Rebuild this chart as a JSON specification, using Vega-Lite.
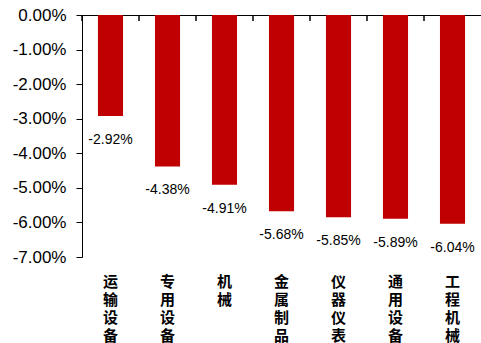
{
  "$schema": "https://vega.github.io/schema/vega-lite/v6.json",
  "width": 481,
  "height": 343,
  "autosize": {"type": "fit", "contains": "padding"},
  "padding": {"top": 6, "left": 12, "right": 0, "bottom": 0},
  "background": "white",
  "config": {"view": {"stroke": null}},
  "data": {
    "values": [
      {"cat": "运输设备", "v": -0.0292},
      {"cat": "专用设备", "v": -0.0438},
      {"cat": "机械", "v": -0.0491},
      {"cat": "金属制品", "v": -0.0568},
      {"cat": "仪器仪表", "v": -0.0585},
      {"cat": "通用设备", "v": -0.0589},
      {"cat": "工程机械", "v": -0.0604}
    ]
  },
  "resolve": {"scale": {"x": "independent"}, "axis": {"x": "independent"}},
  "encoding": {
    "y": {
      "field": "v", "type": "quantitative",
      "scale": {"domain": [-0.07, 0], "nice": false},
      "axis": {
        "title": null, "values": [0, -0.01, -0.02, -0.03, -0.04, -0.05, -0.06, -0.07],
        "format": ".2%", "labelExpr": "replace(datum.label, '−', '-')",
        "grid": false, "domainColor": "#000000", "tickColor": "#000000", "tickSize": 6,
        "labelColor": "#000000", "labelFont": "Liberation Sans", "labelFontSize": 17,
        "labelPadding": 10
      }
    }
  },
  "layer": [
    {
      "mark": {"type": "bar", "color": "#C00000"},
      "encoding": {
        "x": {
          "field": "cat", "type": "nominal", "sort": null,
          "scale": {"type": "band", "paddingInner": 0.56, "paddingOuter": 0.28},
          "axis": {
            "orient": "top", "title": null, "labels": false, "ticks": false,
            "domain": true, "domainColor": "#000000", "domainWidth": 1
          }
        }
      }
    },
    {
      "mark": {"type": "rule", "color": "#000000", "strokeWidth": 1.5},
      "encoding": {
        "x": {
          "field": "cat", "type": "nominal", "sort": null, "bandPosition": 0,
          "scale": {"type": "band", "paddingInner": 0, "paddingOuter": 0},
          "axis": null
        },
        "y": {"datum": 0, "type": "quantitative"},
        "y2": {"datum": -0.0017}
      }
    },
    {
      "transform": [{"calculate": "replace(format(datum.v, '.2%'), '−', '-')", "as": "lab"}],
      "mark": {"type": "text", "baseline": "top", "dy": 17, "font": "Liberation Sans", "fontSize": 14, "color": "#000000"},
      "encoding": {
        "x": {
          "field": "cat", "type": "nominal", "sort": null,
          "scale": {"type": "band", "paddingInner": 0.56, "paddingOuter": 0.28},
          "axis": {
            "orient": "bottom", "title": null, "domain": false, "ticks": false,
            "labelAngle": 0, "labelExpr": "split(datum.label, '')",
            "labelFont": "Noto Sans CJK SC", "labelFontWeight": "bold", "labelFontSize": 15,
            "labelLineHeight": 18, "labelPadding": 17, "labelColor": "#000000",
            "labelBaseline": "top"
          }
        },
        "text": {"field": "lab"}
      }
    }
  ]
}
